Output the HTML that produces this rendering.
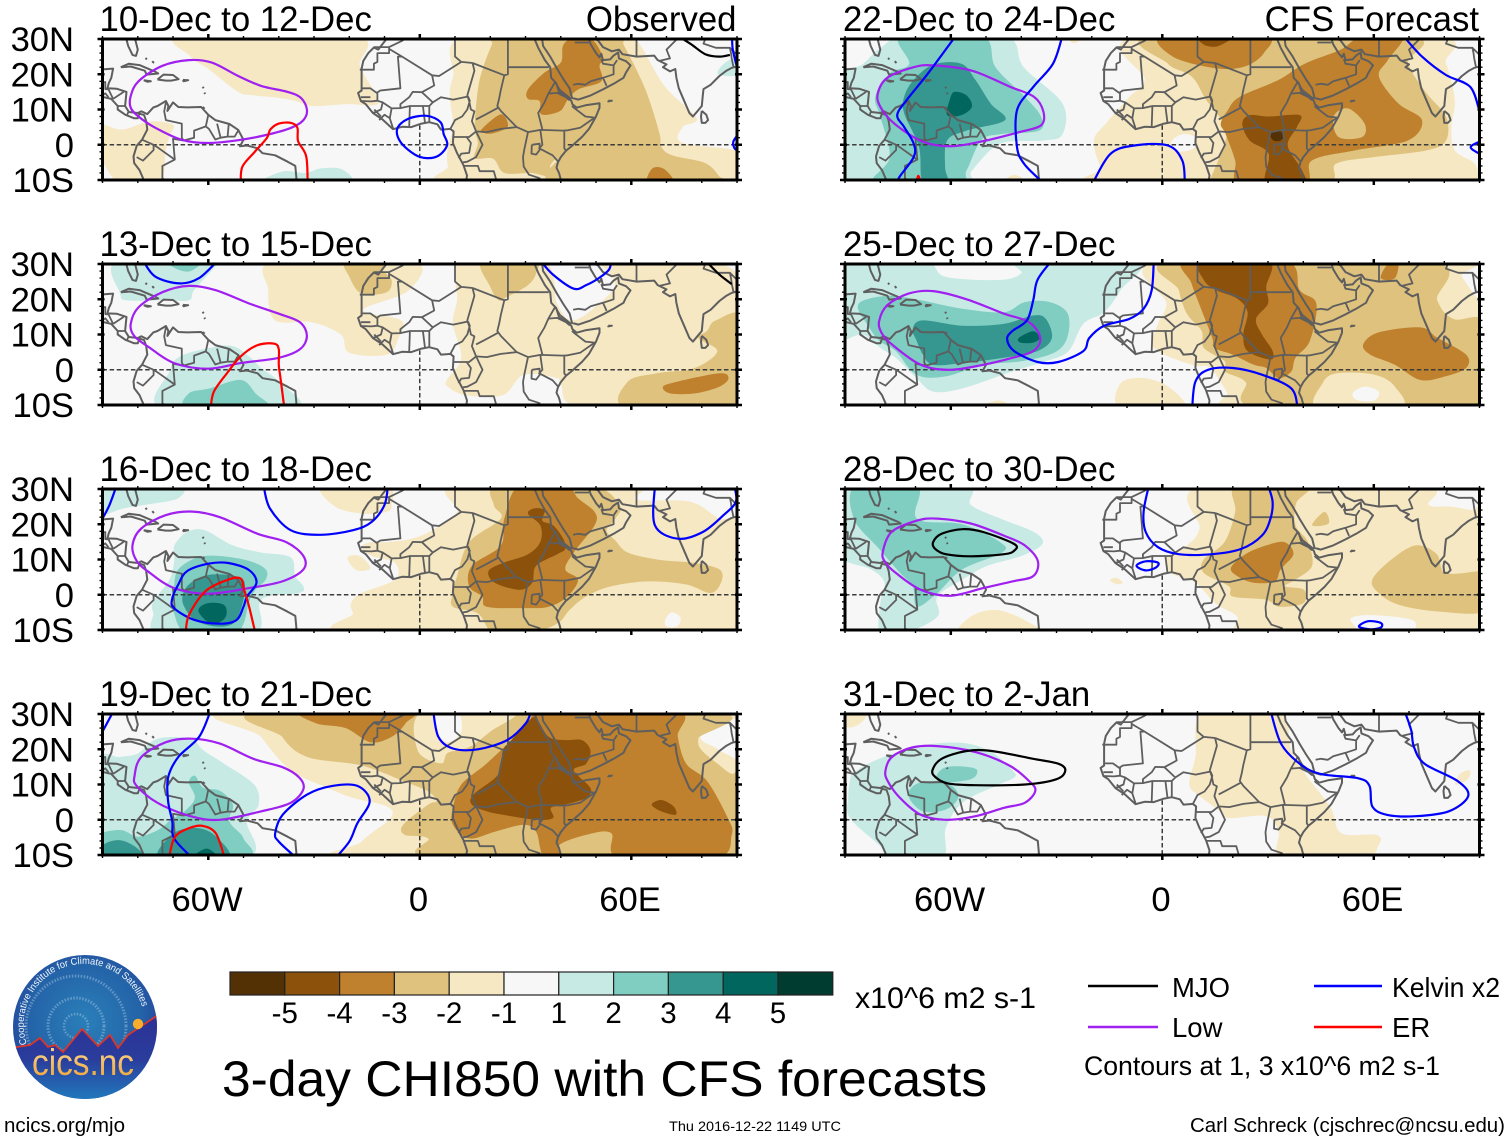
<!DOCTYPE html>
<html lang="en">
<head>
<meta charset="utf-8">
<title>3-day CHI850 with CFS forecasts</title>
<style>
html,body{margin:0;padding:0;background:#fff;width:1510px;height:1142px;overflow:hidden}
svg{display:block}
text{font-family:"Liberation Sans",sans-serif;fill:#000}
</style>
</head>
<body>
<svg id="figure" xmlns="http://www.w3.org/2000/svg" width="1510" height="1142" viewBox="0 0 1510 1142">
  <defs>
    <clipPath id="logo-clip"><circle cx="85" cy="1027" r="72"/></clipPath>
    <radialGradient id="logo-sky" cx="0.5" cy="0.45" r="0.6">
      <stop offset="0" stop-color="#2a7fb9"/><stop offset="0.65" stop-color="#2463a8"/><stop offset="1" stop-color="#243d98"/>
    </radialGradient>
    <linearGradient id="logo-ground" x1="0" y1="0" x2="0" y2="1">
      <stop offset="0" stop-color="#2c2f94"/><stop offset="0.55" stop-color="#2a3d9c"/><stop offset="1" stop-color="#2179bd"/>
    </linearGradient>
    <linearGradient id="logo-word" x1="0" y1="0" x2="0" y2="1">
      <stop offset="0" stop-color="#fbdc9c"/><stop offset="1" stop-color="#f0a030"/>
    </linearGradient>
    <path id="logo-arc" d="M 27 1044 A 60.5 60.5 0 1 1 144 1015"/>
  </defs>

  <g id="panels"></g>

  <g id="colorbar"></g>
  <text x="855" y="1008" font-size="29.7" textLength="181" lengthAdjust="spacingAndGlyphs">x10^6 m2 s-1</text>

  <g>
    <line x1="1088" y1="986" x2="1158" y2="986" stroke="#000" stroke-width="2.4"/>
    <text x="1172" y="997" font-size="27.5" textLength="58" lengthAdjust="spacingAndGlyphs">MJO</text>
    <line x1="1314" y1="986" x2="1382" y2="986" stroke="#0000ff" stroke-width="2.4"/>
    <text x="1392" y="997" font-size="27.5" textLength="108" lengthAdjust="spacingAndGlyphs">Kelvin x2</text>
    <line x1="1088" y1="1027" x2="1158" y2="1027" stroke="#a020f0" stroke-width="2.4"/>
    <text x="1172" y="1037" font-size="27.5">Low</text>
    <line x1="1314" y1="1027" x2="1382" y2="1027" stroke="#ff0000" stroke-width="2.4"/>
    <text x="1392" y="1037" font-size="27.5">ER</text>
    <text x="1084" y="1075" font-size="26.5" textLength="356" lengthAdjust="spacingAndGlyphs">Contours at 1, 3 x10^6 m2 s-1</text>
  </g>

  <text x="222" y="1096" font-size="50" textLength="765" lengthAdjust="spacingAndGlyphs">3-day CHI850 with CFS forecasts</text>
  <text x="4" y="1132" font-size="20.5" textLength="121" lengthAdjust="spacingAndGlyphs">ncics.org/mjo</text>
  <text x="669" y="1131" font-size="13.6" textLength="172" lengthAdjust="spacingAndGlyphs">Thu 2016-12-22 1149 UTC</text>
  <text x="1190" y="1132" font-size="20.5" textLength="315" lengthAdjust="spacingAndGlyphs">Carl Schreck (cjschrec@ncsu.edu)</text>

  <g>
    <circle cx="85" cy="1027" r="72" fill="url(#logo-sky)"/>
    <g clip-path="url(#logo-clip)" fill="none" stroke="#bcd6ee" stroke-opacity="0.4" stroke-dasharray="1.5 1.5">
      <circle cx="76" cy="1026" r="50" stroke-width="3"/>
      <circle cx="76" cy="1026" r="28" stroke-width="3"/>
      <circle cx="76" cy="1026" r="12" stroke-width="2.5"/>
    </g>
    <g clip-path="url(#logo-clip)">
      <path d="M10 1049 L17 1047 L30 1045 L40 1038 L48 1047 L55 1045 L63 1052 L82 1029 L98 1046 L110 1035 L118 1048 L128 1035 L155 1017 L165 1010 L165 1100 L10 1100 Z" fill="url(#logo-ground)"/>
      <path d="M10 1049 L17 1047 L30 1045 L40 1038 L48 1047 L55 1045 L63 1052 L82 1029 L98 1046 L110 1035 L118 1048 L128 1035 L155 1017 L165 1010" fill="none" stroke="#d8362c" stroke-width="1.8"/>
    </g>
    <circle cx="138" cy="1024" r="5.2" fill="#f8ad2e"/>
    <text font-size="9.8" style="fill:#f2f6fb"><textPath href="#logo-arc" textLength="192" lengthAdjust="spacingAndGlyphs">Cooperative Institute for Climate and Satellites</textPath></text>
    <text x="32" y="1075" font-size="37" textLength="102" lengthAdjust="spacingAndGlyphs" style="fill:url(#logo-word)">cics.nc</text>
  </g>
</svg>

<script>
/* ---------- axis ticks ---------- */
const xMajorTicks = [-60, 0, 60];
const xTickLabels = ['60W', '0', '60E'];
const yMajorTicks = [30, 20, 10, 0, -10];
const yTickLabels = ['30N', '20N', '10N', '0', '10S'];

/* ---------- colour scale ---------- */
const barLevels = [-6, -5, -4, -3, -2, 0, 2, 3, 4, 5, 6];
const barLabels = ['-5', '-4', '-3', '-2', '-1', '1', '2', '3', '4', '5'];

/* ---------- panel headings ---------- */
const panelTitles = ['10-Dec to 12-Dec', '13-Dec to 15-Dec', '16-Dec to 18-Dec', '19-Dec to 21-Dec', '22-Dec to 24-Dec', '25-Dec to 27-Dec', '28-Dec to 30-Dec', '31-Dec to 2-Jan'];
const panelTags = ['Observed', '', '', '', 'CFS Forecast', '', '', ''];

/* ---------- map: coastlines and borders as [lon, lat, lon, lat ...] ---------- */
const coastlines = [
  [-83.5,31,-82.7,28,-81.5,25.5,-80.5,25.2,-80,27,-81,31],
  [-91,21.2,-89.5,21.4,-87,21.6,-87.5,19,-88.2,17.5,-88.6,16,-86,15.9,-83.2,15,-83.6,11,-82.5,9.3,-80,9,-79,9.5,-77.3,8.7,-75.6,10.6,-74.4,11,-72,12.4,-71.3,11,-71.6,9.6,-71,10.5,-70,12,-68.5,10.7,-66,10.6,-62,10.7,-60,8.5,-58,7,-54,5.9,-51.5,4.2,-50,1.4,-51,-0.4,-49,-0.2,-46,-1,-44.6,-2.4,-41,-3,-37.5,-4.8,-35.3,-6,-35,-9.5,-36,-11],
  [-91,13.8,-87.5,13,-85.7,11,-85.7,10,-83.5,8.5,-81,7.5,-80,7.5,-79.5,8.8,-78.2,8.4,-77.6,6.7,-77.3,4.3,-78.8,1.4,-80.3,-0.3,-81.2,-3.3,-81,-5.2,-79.5,-7.2,-78.5,-9.5,-78,-11],
  [-84.8,22,-82.5,23,-79.5,22.6,-75,20.7,-74.2,20.2,-77.5,19.9,-78,21,-82,22.2,-84.8,22],
  [-74.4,18.5,-72.7,19.9,-70,19.8,-68.4,18.6,-70.5,18.2,-72,18.2,-74.4,18.5],
  [-78.3,18.3,-76.3,18,-77.3,17.9,-78.3,18.3],
  [-67.2,18.4,-65.7,18.3,-67,18,-67.2,18.4],
  [-61.6,16.4,-61.3,16],[-61.1,14.8,-60.9,14.4],[-77.8,24.6,-77.4,24.2],[-75.9,23.7,-75.4,23.2],[-61.6,10.7,-61,10.2],
  [-9.5,31,-9.6,29.8,-11.8,27,-13,27.6,-14.6,26,-16,23.8,-16.5,21.6,-16.5,15.4,-17.5,14.7,-16.7,12.4,-15.3,11.5,-13.3,9,-10.6,7.2,-7.6,4.4,-5,5.1,-2.4,5,0.5,6,2.7,6.4,5,5.8,6,4.3,7.5,4.4,8.7,4.5,9.6,3.8,9.4,0.5,10.6,-2.4,12.4,-5.8,13.4,-8.7,13.1,-11],
  [32.5,31,32.6,29.9,33.6,27.5,35.5,24,37,22,37.3,19,38.7,17.5,39.5,15,41,14,43,12.5,43.3,11.5,44.5,10.5,47,11.2,51,11.8,51,10.5,50,8,48,4.5,46,2.2,43,-0.5,41.5,-1.7,40,-3.5,39.2,-5,38.8,-6.5,39.5,-8,40.3,-11],
  [34.2,31,34.8,29.5,35,28,37,25,39,21.5,40.8,18.5,42.5,16,43.2,13.3,45,12.8,48.5,14,52,15.7,55,17.3,57.8,19,58.5,20.5,59.8,22.5,58.5,23.7,56.5,24.5,56.3,26.2,55,25.3,54,24.2,52,24,51.5,25.8,51,24.8,50,26,48.5,28.5,48,30,48.5,30.2,50.5,29.7,52,27.7,54.5,26.5,56.5,27,57.5,25.7,61.5,25,66.5,25.3,67.5,24,70,22.8,69,22,71,20.8,72.5,21.5,72.8,19,73.5,16,75,12.5,76.5,9,77.5,8,78.5,9.2,80,11,80.3,14,80.5,15.8,82.5,17,85,19.5,87,21,88.5,21.8,91,22.5],
  [80,9.6,81.3,8.5,81.8,7,81,6.2,80,6.2,79.8,8,80,9.6],
  [53.5,12.5,54.5,12.5,53.5,12.3,53.5,12.5]
];
const borders = [
  [-91,17.5,-89.2,17.8,-89.2,15.8,-88.3,15.7],[-90,14,-89.2,14.6,-88.3,13.5],[-88.3,15.7,-87,13],[-87,13,-84,15],[-83.7,11,-85.7,11],[-83,8.5,-82.6,9.5],
  [-72,12,-72.5,9.5,-72,7,-67.5,6,-67.5,2,-67,1.2,-70,1.7,-69.5,-4.2,-74,-1,-75.5,0,-78.7,1.4],
  [-75.5,0,-75.5,-1.5,-78.5,-4.5,-80.3,-3.5],[-67,1.2,-64,2,-64,4,-60.7,5.2,-60,8.5],[-60.7,5.2,-59.8,4.5,-58,1.5,-56.5,2,-57.5,6],[-56.5,2,-54.5,2.3,-54.2,5.8],[-54.5,2.3,-52.5,2.3,-51.5,4],[-69.5,-4.2,-73,-6,-73,-9.5,-71,-11],
  [-17,21.3,-13,21.3,-13,23,-12,23.5,-12,26,-8.7,26,-8.7,27.7,-13,27.7],[-8.7,27.7,-5,29.5,-3,31],
  [-8.7,27.2,-5,25,-6.2,25,-5.5,16,-11.2,15.4,-12.2,14.7,-14,16,-16.5,16],
  [-5,25,3.5,19.7,4.1,16.8,0.6,14.9,-2,15,-3,13.5,-5.5,11.5,-5.5,10.4,-2.8,11],[3.5,19.7,5.5,19.5,11.8,23.5,15,23.2],[11.8,23.5,10,25,10,31],[15,23.2,24,19.7],[25,31,25,20,24,19.7],[25,22,36.6,22],
  [15,23.2,15.5,21,13.5,14,14,12.5,14.5,10,15.5,9.5,14.8,6.7,16,3.8],[24,19.7,23,15.5,22.5,13,22,11,23,9.6,27.5,5,30.7,3.6],[16,7.2,18.5,8.5,22.4,10.6],
  [16,3.8,19,3.6,23,4.5,27.5,5,30.7,3.6,34.2,4.2,40.7,4],[38.4,17.8,36.5,14.5,35.4,12,33.6,9,34.8,4.3],[38.4,17.8,39.8,15.5,43,13],[36.5,14.5,39,14.7,41.5,13.5,42.5,12.6],
  [43.2,11,43.7,10.5,47,8,49.6,7.7,45.5,4.8,42,4.1,40.7,4],[41,4,41,-1,41.5,-1.7],[34.2,4.2,34.8,0,33.9,-1,37.7,-3,39.2,-4.7],[30.7,3.6,29.7,-1.2,29.3,-3.5,29.5,-6.2,31,-8.5,34,-9.5,33.9,-11],
  [31.8,0,34,0.3,34,-1.5,33,-2.8,31.7,-2.5,31.8,0],
  [9.4,2.2,11.3,2.2,14,2.2,16,3.8],[11.3,2.2,13.3,2.2,14.5,0.5,14,-2.3,11.8,-2.5,11,-3.8],[16,3.8,17.8,0,16,-3.5,13.5,-4.8,12.2,-5],[12.4,-6,16.5,-6,17,-7.5,21,-7.5,22,-11],
  [8.7,4.5,10,7,12,8,13.5,10,14.2,12.5,13.7,13.7],[2.7,6.4,2.7,11,3.7,12,6,13.5,9.5,12.8,13.7,13.7],[2.7,11,0.9,11,1.5,6.2],[-3,5.2,-2.8,11,0.9,11],[0.6,14.9,3.7,12],
  [-7.5,4.4,-8.5,7.5,-8,10.3,-5.5,10.4],[-11.5,7,-10,8.5,-8.5,7.5],[-13.3,9,-11,10,-10.5,12,-12,12.5,-13.7,12.3,-16.7,12.4],[-10.5,12,-8,10.3],[-12,14.7,-12,12.5],[-16.7,13.5,-14,13.5],[-12.9,10,-11,8],
  [37,31,39,31],[44,29,46.5,29,48,29],[43.5,17,45,17.3,47,17,48.5,18,52,19,55,20,55,22.5,52,23,51.5,24.3],[52,19,53,16.7],[55,22.5,56,24],[61.5,25,61.5,29.5,60.8,31],[68,23.8,71,24.5,70,27,73,30,74,31],[79,31,81,30,80.5,28.7,84,27.5,88,27.5,88.3,26,88.5,24.5,89,22],[88,27.5,90,25.5,92,25]
];

/* ---------- fields: [level, [lon, lat ...]] painted in order ---------- */
const fills10Dec = [
  [-1,[-67,31,-65,25,-60,21.5,-51.5,15,-47,14,-41,13.4,-35.5,12.5,-30.5,11,-21,11.5,-12,11.5,-13.5,16,-17,22.5,-18.5,31]],
  [-1,[-92,5.7,-84.5,4.3,-76.7,6.6,-70,5.7,-71,2.4,-72,-1.4,-74,-11,-85,-11,-90,-5,-92,-4]],
  [-1,[13,31,9.5,19.5,8.5,14,9.5,5,8,-0.5,8,-6,11,-11,92,-11,92,-2.4,74.6,0.5,74.6,5,78.5,7.6,69.5,16.6,62,29,57.4,31]],
  [-2,[18,22,20.5,28.5,22,31,55.5,31,58,28,64,15.7,68,3.3,68.5,-0.5,71.6,-3,81,-5.2,85,-9,86,-11,39,-11,39,-4.3,37,-6,37,-9,31.7,-8,24,-8,20.8,-4,15.6,-3.8,16.5,0.5,15.6,5,16.5,15.7]],
  [-3,[40.6,28,43,30,48.7,30,52,24.7,51,22.4,51.5,18,45,15.7,42,12.8,39.7,9.5,34.5,8.6,34,12.4,30.7,13,30.7,15.7,35.4,20.5,40,23.3]],
  [-3,[17.5,4.3,23,8.6,25,5.2,21,3.3,18.4,3.3]],
  [-3,[64.7,-11,66,-6.7,69.5,-7,72,-11]],
  [2,[-44,-11,-39,-7.6,-32.5,-8,-28,-6.7,-22,-7,-20.5,-11]],
  [2,[84.6,20,87.4,23.8,92,24.3,92,20]]
];
const fills13Dec = [
  [2,[-85.6,31,-85,21.6,-83,19.7,-73,19.7,-65.5,19.7,-64,22.6,-58,29.3,-57,31]],
  [3,[-71.5,31,-69,28.6,-65,28,-62,31]],
  [2,[-73,-11,-71,-0.5,-68,3.8,-59,6.3,-53,6.7,-48.4,3.8,-45,0.5,-40,-3.4,-35.4,-11]],
  [3,[-65.5,-11,-65.5,-6.7,-59.6,-5.3,-50.8,-2.9,-46.6,-6.7,-43.7,-11]],
  [-1,[-41,31,-43,22.6,-41,14,-30.7,13.5,-22.4,10,-20,4.8,-9.4,4.3,-6,9,-5.3,14,-16,17,-3,22.6,-2.4,31]],
  [-1,[12,31,10.6,19.7,9.4,13,11.8,3.4,7.7,-2.9,8,-4.8,13,-7.2,23.6,-7.2,29.5,-1.4,39,-2.4,40,-4.3,47,-11,92,-11,92,23,80,31,53,31,54,27.4,55.3,24,52,19.7,43.7,14,39,18.7,35,31]],
  [-2,[-21,31,-20,26.4,-16.5,21.6,-9.4,22,-8,25.5,-10.6,28.4,-10,31]],
  [-2,[17.7,31,20,23.5,22.4,19.7,24.8,20.7,30.7,24,33,27.4,32.5,31]],
  [-2,[59,-11,59,-3.4,67.3,-1,78,0.5,84.4,5.3,79,9,81.5,11,84,14,92,14.4,92,-11]],
  [-3,[69,-4.8,73,-3.4,85,-1,87.6,-2.4,85,-4.8,78,-6.7,71,-6.7]]
];
const fills16Dec = [
  [2,[-92,31,-69,31,-68.5,27.4,-78,25.5,-84,24.5,-92,22.6]],
  [-1,[-27.7,31,-24,25,-16,23,-9.4,23.5,-8,25.5,-9.4,31]],
  [-1,[-20.5,10.5,-17,11,-14,7.5,-18,7]],
  [-1,[10.6,31,10.6,23.5,3.5,18.3,-2.4,15.9,-9.4,14.9,-14,14.9,-16.5,13.5,-13.6,11,-7,9,-7,4.3,-16.5,0.5,-19.5,-2.4,-18.9,-5.3,-16.5,-11,92,-11,92,19.7,85,21.6,76.7,26.4,61.4,27,60,31]],
  [0,[69.7,-7,71.5,-5,74,-6.5,73,-9,70,-9]],
  [-2,[22.4,31,21,25.5,23,21.6,14,14.9,10.6,5.3,9.4,0.5,9.4,-3.4,16.5,-5.3,21,-11,30.7,-11,39,-8.2,42.5,-4.3,47.2,-0.5,54.3,2.4,65,3.8,75.6,2.9,82.6,0.5,85.6,3.8,85,7.2,78,9,67.3,10,59,12,55.5,15.4,53,18.3,55.5,21.6,56.7,25.5,48.4,31]],
  [-3,[28.3,31,24,21.6,23,14,14.8,8.2,14,2.4,17.7,-0.5,19,-3.4,29.5,-3.8,36.6,-3.4,41.9,-0.5,44.9,4.3,41.3,7.2,43.7,12,49.6,19.7,49.6,23.5,44.9,27.4,41.3,31]],
  [-4,[30.7,23,32.5,24.5,35.4,24,34.8,21,37.8,19.7,40.7,15.9,41.3,13,39,11.5,33,8.2,31.9,3.4,28.3,1.4,21.3,3.4,19.5,6.7,23.6,9,30.7,11.5,34.2,15,34.2,19.7]],
  [2,[-69.6,14,-66,17.8,-61,18.3,-53,14,-45,12,-36.6,10.6,-35.4,5.3,-33,2.4,-34.2,0.5,-45,-1.4,-47,-11,-73.8,-11,-75.6,-5.3,-75.6,-2,-71,4.3,-69.6,10]],
  [3,[-69.7,2.4,-68.5,7.2,-63,10.6,-56.7,11,-48.4,9.6,-43.7,7.2,-43.7,4.3,-46.6,1.4,-48.4,-2,-50,-8.2,-53,-11,-66,-11,-69.7,-5.3,-69.7,-1.4]],
  [4,[-67.3,-0.5,-66,2.4,-62.6,4.8,-57.9,5.8,-50.8,4.8,-49.6,1.4,-50.8,-4.3,-53,-8.2,-57.9,-9,-63.8,-7.2,-66.8,-3.4]],
  [5,[-62.8,-4.3,-60.2,-2.4,-55.5,-2.9,-55,-6.2,-57.9,-8.2,-60.8,-7.2]]
];
const fills19Dec = [
  [2,[-92,16.3,-85,17.8,-80,18.8,-74.4,23,-65,23,-61.4,19.7,-55.5,15.9,-47,10,-45.7,4.3,-49,-0.5,-49.6,-11,-92,-11]],
  [3,[-92,-11,-92,-4.8,-85,-2.9,-80,-4.8,-74.4,-3,-70.5,0,-66.7,2.4,-63.8,6.2,-65.5,10.6,-63.8,12.5,-61.4,9.1,-56.7,8.2,-53,4.3,-54,-0.5,-50,-5.3,-50.8,-11]],
  [4,[-92,-11,-90,-7.2,-85,-5.8,-80,-8.2,-79,-11]],
  [4,[-73.8,-11,-69.7,-3.8,-62.6,-2.4,-57.2,-5.3,-54.8,-11]],
  [5,[-64.4,-11,-60.8,-8.2,-57.9,-9.6,-56,-11]],
  [-1,[-49.6,31,-45,23.5,-36.6,14,-26,9,-19,6.2,-9.4,3.8,-8.3,0.5,-16.5,-6.2,-17.7,-11,92,-11,92,13,85,19.7,80,22.6,80,26.4,85,31]],
  [-2,[-41.3,31,-39,23.5,-31.9,17.8,-16.5,15.4,-4.7,11,2.4,8,4.7,5.3,2.4,4.3,-4.7,-1.4,-4.2,-4.3,2.4,-5.3,5.9,-11,92,-11,92,13,88.5,13,85,15.5,80,19.7,79,23,80,31]],
  [-1,[1.2,31,-0.6,19.7,6,16,8,19,14,20.6,20,25,27,31]],
  [0,[4,31,4.7,25,8,22,11.8,25,10.6,31]],
  [-3,[-33,31,-29.5,27.4,-21,26,-14,22,-8,23.5,-4,27.4,-3,31]],
  [-3,[26,22.6,18.9,15.9,11.8,10,9.4,3.4,9.4,-1.4,14,-5.3,21.3,-3.4,29.5,-1.4,33,-3.4,34.2,-8.2,35.4,-11,40.1,-11,39.6,-7.2,47.2,-4.3,54.3,-3.8,56.7,-11,84,-11,88.5,-4.3,87.4,0.5,81.5,11,75.6,15.9,73.2,23.5,72.6,31,36.6,31,31,28]],
  [-4,[30.7,27.9,33,28.8,36.6,23.5,41.3,22.6,46,22.6,48.4,19.7,47.2,15.9,43.7,14,48.4,9,47.2,6.2,41.3,4.3,37.2,3.4,37.8,0.5,33,0,23.6,1.4,19,2.4,14.8,4.3,15.3,7.2,22.4,13,23.6,19.7,26,22.6]],
  [-4,[65.8,4.3,68.5,5.6,72,3.8,72.6,1.4,68.5,2.4]]
];
const fills22Dec = [
  [2,[-92,-11,-92,17,-84.8,23,-80,27.4,-72,31,-44.8,31,-39.3,22,-28.3,11.7,-28.3,3,-33.7,1.2,-46,0.3,-54,-7.3,-57,-11]],
  [3,[-74,31,-51.4,31,-47.3,22,-39,13.6,-34.4,8,-35,4,-46,3,-51.4,1.2,-55.5,-7.3,-58,-11,-81.4,-11,-77.3,-3.5,-80,8,-81.4,13.6,-77.3,20.3,-71.8,23]],
  [4,[-73.2,13.6,-70.5,18.4,-65,22.7,-57,23,-53,18.4,-48.7,11.7,-44.6,7,-55.5,4,-61,1.2,-61.6,-6.4,-61,-11,-67.8,-11,-69,-0.7,-73.2,8.9]],
  [5,[-59,15,-55.5,14,-54,10.8,-57,8.4,-61,8.4,-60.3,12.7]],
  [-1,[-45,-11,-42,-8.5,-38,-11]],
  [-1,[-27,31,-25,28.8,-22,31]],
  [-1,[-6.5,31,-5,18.4,-9.3,13.6,-16,6,-19.4,1.2,-17.4,-6.4,-13.3,-11,92,-11,90,-10,88.7,-5.4,83,-1.6,82,5,83,12.7,80.5,23,75.8,31]],
  [0,[3,1.5,6,3,9.5,2,9,-1,5,-2,2.5,-1]],
  [-2,[-2.4,31,1.6,23,8.4,19.3,12.5,12.7,18,5,17.3,-0.7,13.9,-9.2,13.5,-11,45.9,-11,49.3,-5.4,60,-3.5,75,-1.6,80.5,1.2,80.5,8,75,14.6,69.7,23,69,31]],
  [-3,[0.3,31,3,25,15.2,21.7,23.4,22.2,28.8,26,28.8,31]],
  [-3,[18.6,9.8,22,13.6,33,18.4,40.4,23,50.6,27,57,31,68.3,31,64,24,61.5,19.3,67,11.7,73.7,7,69.7,1.2,54.7,-1.6,42.4,-4.5,40.4,-11,22,-11,20.7,-4.5,18,3,16.6,6]],
  [-2,[48.6,8,52.7,10.3,57.4,6,56.7,2.2,50,2.2]],
  [-4,[22.7,6,24.8,8.4,30.2,8,39,8.4,38.2,5,35.6,-0.3,39.7,-7.3,40,-11,29.5,-11,30.2,-2.6,24.8,1.2]],
  [-4,[10.5,31,11.8,28.4,15.9,28,20,31]],
  [-6,[30.6,3,33,4,34.6,2.7,33.6,1.2,31.6,1.2]]
];
const fills25Dec = [
  [2,[-92,31,-68,31,-61.5,26.4,-46,25.5,-40,27.4,-40,31,-7,31,-11.8,22.6,-16.5,16.3,-22.4,13,-26.6,5.3,-33,2.4,-42.5,-0.5,-56.7,-5.3,-65,-6.2,-69.7,-2.4,-75.6,3.4,-80,6.2,-85,10,-92,10]],
  [3,[-86.4,17.8,-83.8,20,-76.7,21,-68.5,19.7,-56.7,17.3,-45,16.3,-39,19.2,-31.9,19.2,-26.8,15.9,-27,9,-30.7,4.8,-40,2.4,-50.8,1.4,-61.4,-1.9,-69.7,-1.4,-75.6,5.3,-80.3,8.2,-83.8,13]],
  [4,[-70.8,11.5,-68,14,-56.7,12.5,-45,13,-36.6,15.4,-33,14.4,-31.3,9,-35.4,5.3,-45,3.4,-56.7,1.9,-65,1.4,-67.9,4.3,-69.7,8.2]],
  [5,[-40.7,9,-36.6,10.9,-34.8,9,-36.6,7.7,-40.2,7.7]],
  [-1,[-52,-11,-46.5,-8.7,-42.5,-11]],
  [-1,[-11.8,-11,-11.8,-3.8,-4.7,-2.4,2.4,-5.3,5.9,-11]],
  [-1,[0,31,1.2,18.8,-1.2,13,-2.4,6.2,8.3,1.4,13.6,0.5,18.3,-6.2,22.4,-11,92,-11,92,19.7,90,19.7,85,26.4,82.6,31]],
  [-2,[3.5,31,4.7,22.6,7,15.9,11.2,11,11.8,6.2,17.7,2.4,17.7,-0.5,23.6,-3.4,28.3,-11,92,-11,92,13,82.6,14.4,78,19.7,75.6,31]],
  [-1,[44.3,-11,45.5,-3.8,49.6,-1,60.2,-1.4,66,-4.8,67.3,-11]],
  [0,[54,-6.7,57.3,-4.8,61.4,-6.2,60.2,-8.7,55.5,-8.7]],
  [-3,[7,31,8.3,24.5,11.2,16.8,14.2,9,14.8,6.2,20,4.3,26,1.4,29.5,0.5,33,-2.4,36.6,-0.5,37.8,3.4,41.9,8.2,43.7,18.8,39,22.6,34.8,31]],
  [-3,[57,7.2,61.4,10.6,73.2,12,78,9.1,86.2,4.3,86.2,0.5,80.3,-1.9,73.2,-2.9,66,1.4,59,4.3]],
  [-3,[62,26,64,30,67,31,66,26]],
  [-4,[11.2,31,11.8,25.5,15.3,22.6,21.2,20.2,24.2,16.3,23,10,24.2,5.3,30.7,2.9,31.3,5.3,28.3,10,26.6,14.4,30,18.8,29.5,23.5,30,31]]
];
const fills28Dec = [
  [2,[-92,31,-56.7,31,-54.3,25.5,-45.9,21.6,-36.4,17.8,-34,14.4,-40,11,-49.6,8.2,-56.7,4.3,-63.8,-0.5,-63.8,-6.2,-73.2,-11,-80,-11,-80,-2.4,-78.8,3.4,-82.6,7.2,-92,12]],
  [3,[-86.8,31,-69.6,31,-69.6,21.6,-56.7,20,-46,14.9,-45.4,12,-56.7,7.2,-63.8,0.5,-69.6,-3.4,-70.8,2.4,-74.4,6.2,-80.3,13,-87.5,21.6]],
  [-1,[11.8,31,10.6,18.8,7,14,1.2,10.6,2.4,6.2,9.4,3.4,14,-1.4,16.5,-3.4,21.3,-6.2,23,-11,52.9,-11,53.5,-6.7,60.2,-5.8,71,-7.2,73.8,-11,92,-11,92,24,88,24,82,25,75.6,25.5,72.8,31]],
  [-1,[-14.8,4.1,-13,4.8,-11.2,3.4,-13,3]],
  [-1,[-56.7,-11,-54.3,-6.2,-47.2,-4.3,-39,-7.2,-35.4,-11]],
  [-2,[21.3,31,20.7,23.5,17.7,15,11.8,10,11.8,6.2,18.9,2.4,20,-0.5,29.5,-1.4,33,-3.4,40,-2.4,40.2,1.4,34.8,2.4,37.8,4.3,42.5,8.2,41.3,15,37.8,19.7,38,26,41.3,31]],
  [-2,[42.5,19.7,46,23.5,47.2,20.2]],
  [-2,[59.6,4.3,65,10,72,14,77.9,11.5,80.3,6.2,89.7,6.7,92,7,92,-4.3,79,-4.8,67.3,-2.9,61.4,0.5]],
  [-3,[19.5,7.7,23.6,11.5,29.5,14,34.8,14.9,37.2,11.5,33.6,7.2,31.9,3.8,26,3.4,21.3,5.3]]
];
const fills31Dec = [
  [2,[-87.4,13.5,-80.3,17.3,-68.5,21,-56.7,21.8,-48.4,19.2,-42.5,14,-42,12,-47.2,9.6,-56.7,4.8,-61.4,-2.4,-62.6,-11,-76.7,-11,-80.3,-7.2,-88.6,0.5,-89.1,6.2,-88.6,11]],
  [3,[-64,12.5,-61.4,14.9,-55.5,15,-52.5,14,-54.3,11.5,-62.6,10.6]],
  [3,[-72,6.7,-70,10,-64.7,10.9,-59.6,9.6,-57.9,6.2,-61.4,2.9,-67.9,2.4]],
  [-1,[-92,31,-89.7,26.4,-85.6,27.4,-83.8,31]],
  [-1,[11.8,31,9.4,17.8,7.7,10,10.6,6.7,16.5,2.4,18.9,0.5,29.5,1,33,-3.4,34.2,-11,56.7,-11,61.4,-7.2,60.8,-4.3,50.8,-3.8,47.8,3.4,41.3,12,36.6,19.7,33,31]],
  [-1,[83.2,10,84.4,13,87.3,14,86.7,11.5]]
];

/* ---------- contours: [kind, closed, [lon, lat ...]] ---------- */
const lines10Dec = [
  ['low',1,[-82,13.8,-79.8,18,-73,22.4,-65.5,24,-59,23.3,-51.5,19.5,-45,16.7,-37.5,15,-33.7,13.3,-32,10,-33,7,-36.5,4.8,-43,2.9,-50.8,1.4,-60,0.5,-67.5,1.4,-75,4.8,-79.8,8,-82,10.5]],
  ['er',0,[-50.8,-11,-50.3,-6.2,-46.7,-1.9,-43.4,1.9,-42.4,4.3,-40,6,-36.5,6.2,-34.7,4.8,-34.5,1,-32.2,-3.3,-31.8,-11]],
  ['kelvin',1,[-6.4,4.5,-3.4,7.3,2,8.2,5.9,6.4,6.8,3,7.8,0,5.5,-3,2,-3.8,-1.4,-2.8,-5.4,0.7]],
  ['kelvin',0,[90.8,3.5,89,1,89.3,-1,90.8,-2]],
  ['kelvin',0,[88.6,31,88.8,27,90,22]],
  ['mjo',0,[73,31,77,28.5,81,25.7,85,25,88,25.5]]
];
const lines13Dec = [
  ['low',1,[-82,13,-79.7,17.8,-73,22,-65.5,23.8,-58,22.6,-48.4,18.8,-40,15.9,-34,13.5,-32,9.6,-34,5.8,-40,3.4,-50.8,1.9,-60,0.3,-69.7,1.9,-76.7,6.3,-81,9.6]],
  ['kelvin',0,[-78.5,31,-75,26.4,-68,24.5,-62.6,26,-57.3,31]],
  ['kelvin',0,[34.2,31,37.8,27,43.7,23,47.2,24,50.8,26,53.7,28.4,54.3,31]],
  ['mjo',0,[81,31,85,27,88.5,24.3]],
  ['er',0,[-59.3,-11,-58.4,-6.2,-54.3,-0.5,-50.8,3.8,-46,7,-41.3,7.4,-40,5.8,-40,1.4,-39.5,-2.4,-38.4,-11]]
];
const lines16Dec = [
  ['low',1,[-81.5,14,-79,18.8,-72,22.6,-64.4,23.6,-56.7,22,-46,17.3,-37.8,14.9,-33,11,-33,7.2,-39,3.8,-48.4,1.9,-60,0.3,-69.7,1.9,-76.7,6.3,-80.3,9.6]],
  ['kelvin',1,[-68.5,2.9,-66,6.7,-60,8.8,-54.3,9,-48.4,7,-46.3,3.4,-49,-0.5,-50,-3.4,-52,-7.2,-56.7,-8.2,-63.8,-7.2,-69.7,-3.8,-70.2,-1]],
  ['kelvin',0,[-86,31,-88,25.5,-90,21.6]],
  ['kelvin',0,[-44.3,31,-42.5,24.5,-36.6,18.3,-28.3,17,-18.9,18.3,-13.6,20.7,-10,25.5,-9,31]],
  ['kelvin',0,[66.7,31,66.7,19.7,73.2,15.9,80.3,17.8,86.2,22.6,89.7,26.4,89.2,31]],
  ['er',0,[-66.4,-11,-65.5,-5.8,-60.8,1,-54.3,4.3,-50.8,4.6,-49.8,1.4,-48.4,-3.4,-46.6,-11]]
];
const lines19Dec = [
  ['low',1,[-80.9,12.5,-79,17.8,-72,22,-64.7,23,-56.7,21.6,-47.2,17.3,-38.9,14.9,-34.2,12,-33,8.7,-36.6,4.8,-44.9,2.4,-56.7,0,-65,1,-74.4,4.8,-80.3,9.6]],
  ['kelvin',0,[-59.3,31,-62.6,23.5,-68.5,17.8,-71.4,12,-71.4,5.3,-70.2,-0.5,-69.7,-5.3,-64.4,-11]],
  ['kelvin',0,[-90,25,-86.8,31]],
  ['kelvin',0,[-34.8,-11,-40,-6.2,-41,-3.8,-38.9,1.4,-31.9,7.2,-24.8,9.6,-17.7,9.6,-14.2,5.3,-17.7,-1,-20,-6.2,-24,-11]],
  ['kelvin',0,[3.8,31,5.3,23.5,9.4,20.2,16.5,20,24.8,22.6,30.1,27.4,31.6,31]],
  ['er',0,[-71.2,-11,-69.7,-5.3,-66.7,-2.9,-62,-1.7,-57.9,-3.8,-55.3,-11]]
];
const lines22Dec = [
  ['low',1,[-80.7,14.6,-78,19,-70.5,22,-65,22.5,-54,21,-43.3,16.5,-36.4,13.6,-33.7,9.3,-34.4,5.5,-40.5,3.6,-50,1.2,-59.6,-0.4,-67.8,0.8,-76,6,-80,10.8]],
  ['kelvin',0,[-58.5,31,-66.4,20.3,-72.5,12.7,-75.2,8.4,-73.2,5,-70.5,0.3,-70.5,-3.5,-74.6,-9.2,-75,-11]],
  ['kelvin',0,[-28.3,31,-31,23,-36.5,16.5,-41.2,9.8,-41.2,-0.7,-39.2,-5.4,-35,-9.7,-34,-11]],
  ['kelvin',0,[-19.8,-11,-14.7,-2.6,-7.9,-0.2,1.6,-0.2,5.7,-4.5,6.4,-11]],
  ['kelvin',0,[68.3,31,73.7,25,80.5,19.8,87.3,16.5,89.8,10.3]],
  ['kelvin',0,[90.8,1.2,87.5,-0.7,90.8,-3]],
  ['er',0,[-69.8,-11,-69.2,-8.8,-68.5,-11]]
];
const lines25Dec = [
  ['low',1,[-80.3,13.9,-78,18.3,-72,21.6,-65,22.3,-55.5,20,-44.9,15.9,-37.8,13.5,-34.6,9,-36.6,5.3,-42.5,3.4,-50.8,1.4,-60.2,0,-68.5,1.4,-76.7,7.2,-79.7,10.6]],
  ['kelvin',0,[-31.3,31,-35.4,25.5,-36.6,19.7,-38.4,14,-42.5,11,-44,8.7,-42,5.3,-35.4,2.2,-29.5,2.2,-22.4,5.3,-20.7,9,-16.5,12.5,-9.4,14.4,-5.3,17.3,-3,22.6,-2.4,31]],
  ['kelvin',0,[8.5,-11,9.4,-3.4,13,0,20,0.5,28.3,-1.4,36.6,-5.3,38.4,-11]]
];
const lines28Dec = [
  ['low',1,[-79.3,12,-76.8,17.8,-69.7,21,-63.8,21.6,-54.3,20.2,-45,16.8,-39,14,-35.3,9.6,-36.6,5.3,-42.5,3.8,-50.8,1.9,-60.2,-0.3,-68.5,1.4,-75.6,6.2,-78.5,9.1]],
  ['mjo',1,[-65,14.9,-62.6,17.3,-56.7,18.6,-50.8,17.8,-42,14.4,-42,12.5,-44.9,11.5,-54.3,10.9,-61.4,11.5,-64.4,13]],
  ['kelvin',0,[-3.8,31,-5.3,23.5,-4.7,17.8,-1.2,13.5,4.7,11.5,14.2,11.5,22.4,13,28.3,16.8,30.7,21.6,31.3,26.4,30,31]],
  ['kelvin',1,[-7.3,8.2,-4.7,9.5,-1.2,9.1,-1.8,7.7,-4.7,6.9]],
  ['kelvin',1,[55.8,-9,58.4,-7.5,62,-8,62,-9.3,59,-9.8]]
];
const lines31Dec = [
  ['low',1,[-78.5,14,-76.7,17.8,-71,20.5,-63.8,20.9,-53,19.2,-43.4,15.4,-37.8,11,-36,8.2,-39,4.8,-44.9,3.4,-53,1,-61.4,0,-68.5,1.4,-74.4,6.2,-77.9,11]],
  ['mjo',1,[-65.2,14,-62.6,17.3,-55.5,19.5,-48.4,19.5,-36.6,17.3,-29.5,15.9,-27.5,14,-30,11.5,-38.9,10,-53,9.8,-60.8,10.3,-64.2,12]],
  ['kelvin',0,[30.7,31,33.7,21.6,39,15.9,44.9,13,55.5,11.8,58.8,9.6,59.6,3.8,63.7,1.4,71.9,1,81.3,2.4,86.8,6.7,83.8,11,74.4,15.9,71.4,20.7,70.6,25.5,68.7,31]]
];

const panelFills = [fills10Dec, fills13Dec, fills16Dec, fills19Dec, fills22Dec, fills25Dec, fills28Dec, fills31Dec];
const panelLines = [lines10Dec, lines13Dec, lines16Dec, lines19Dec, lines22Dec, lines25Dec, lines28Dec, lines31Dec];

/* ---------- rendering ---------- */
const SVGNS = 'http://www.w3.org/2000/svg';
const DEG = 3.525;
const colX = [102.5, 845];
const rowY = [39, 264, 489, 714];
const barColor = {'-6':'#543005','-5':'#8c510a','-4':'#bf812d','-3':'#dfc27d','-2':'#f6e8c3','0':'#f7f7f7','2':'#c7eae5','3':'#80cdc1','4':'#35978f','5':'#01665e','6':'#003c30'};
const lineColor = {low:'#a020f0', kelvin:'#0000ff', er:'#ff0000', mjo:'#000000'};
const fillColor = {'-6':'#543005','-4':'#8c510a','-3':'#bf812d','-2':'#dfc27d','-1':'#f6e8c3','0':'#f7f7f7','2':'#c7eae5','3':'#80cdc1','4':'#35978f','5':'#01665e','6':'#003c30'};

function make(parent, tag, attrs) {
  const el = document.createElementNS(SVGNS, tag);
  for (const k in attrs) el.setAttribute(k, attrs[k]);
  parent.appendChild(el);
  return el;
}
function xAxis(col, lon) { return colX[col] + (lon + 90) * DEG; }
function yAxis(row, lat) { return rowY[row] + (30 - lat) * DEG; }
function toPixels(col, row, flat) {
  const pts = [];
  for (let i = 0; i < flat.length; i += 2) pts.push([xAxis(col, flat[i]), yAxis(row, flat[i + 1])]);
  return pts;
}
function smoothPath(pts, closed) {
  const n = pts.length;
  const at = function (i) {
    if (closed) return pts[(i + n) % n];
    return pts[Math.max(0, Math.min(n - 1, i))];
  };
  let d = 'M' + pts[0][0].toFixed(1) + ' ' + pts[0][1].toFixed(1);
  const last = closed ? n : n - 1;
  for (let i = 0; i < last; i++) {
    const p0 = at(i - 1), p1 = at(i), p2 = at(i + 1), p3 = at(i + 2);
    const c1x = p1[0] + (p2[0] - p0[0]) / 6, c1y = p1[1] + (p2[1] - p0[1]) / 6;
    const c2x = p2[0] - (p3[0] - p1[0]) / 6, c2y = p2[1] - (p3[1] - p1[1]) / 6;
    d += 'C' + c1x.toFixed(1) + ' ' + c1y.toFixed(1) + ' ' + c2x.toFixed(1) + ' ' + c2y.toFixed(1) + ' ' + p2[0].toFixed(1) + ' ' + p2[1].toFixed(1);
  }
  return closed ? d + 'Z' : d;
}
function polyPath(pts) {
  return 'M' + pts.map(function (p) { return p[0].toFixed(1) + ' ' + p[1].toFixed(1); }).join('L');
}

const svg = document.getElementById('figure');
const panelsRoot = document.getElementById('panels');
const defs = svg.querySelector('defs');
const X0 = -90, X1 = 90, Y0 = 30, Y1 = -10;

panelTitles.forEach(function (title, idx) {
  const col = idx < 4 ? 0 : 1;
  const row = idx % 4;
  const left = xAxis(col, X0), right = xAxis(col, X1), top = yAxis(row, Y0), bottom = yAxis(row, Y1);

  const cp = make(defs, 'clipPath', {id: 'clip-' + idx});
  make(cp, 'rect', {x: left, y: top, width: right - left, height: bottom - top});

  const g = make(panelsRoot, 'g', {});
  
  

  const bg = make(g, 'rect', {x: left, y: top, width: right - left, height: bottom - top, fill: '#f7f7f7'});
  
  

  const clipped = make(g, 'g', {'clip-path': 'url(#clip-' + idx + ')'});

  panelFills[idx].forEach(function (shape) {
    const path = make(clipped, 'path', {d: smoothPath(toPixels(col, row, shape[1]), true), fill: fillColor[String(shape[0])]});
    
    
  });

  const eqA = make(clipped, 'line', {x1: xAxis(col, -90), x2: xAxis(col, 9.5), y1: yAxis(row, 0), y2: yAxis(row, 0), stroke: '#3c3c3c', 'stroke-width': 1.5, 'stroke-dasharray': '4.5 2.6'});
  
  
  const eqB = make(clipped, 'line', {x1: xAxis(col, 42), x2: xAxis(col, 90), y1: yAxis(row, 0), y2: yAxis(row, 0), stroke: '#3c3c3c', 'stroke-width': 1.5, 'stroke-dasharray': '4.5 2.6'});
  
  
  const pm = make(clipped, 'line', {x1: xAxis(col, 0), x2: xAxis(col, 0), y1: yAxis(row, 5.5), y2: yAxis(row, -10), stroke: '#3c3c3c', 'stroke-width': 1.5, 'stroke-dasharray': '4.5 2.6'});
  
  

  const coastD = coastlines.map(function (c) { return polyPath(toPixels(col, row, c)); }).join('');
  const coast = make(clipped, 'path', {d: coastD, fill: 'none', stroke: '#5e5e5e', 'stroke-width': 2, 'stroke-linejoin': 'round'});
  
  
  const borderD = borders.map(function (c) { return polyPath(toPixels(col, row, c)); }).join('');
  const bord = make(clipped, 'path', {d: borderD, fill: 'none', stroke: '#5e5e5e', 'stroke-width': 1.8, 'stroke-linejoin': 'round'});
  
  

  panelLines[idx].forEach(function (ln) {
    const path = make(clipped, 'path', {d: smoothPath(toPixels(col, row, ln[2]), ln[1] === 1), fill: 'none', stroke: lineColor[ln[0]], 'stroke-width': 2.2});
    
    
  });

  /* ticks */
  let tickD = '', minorD = '';
  for (let lon = X0; lon <= X1; lon += 10) {
    const x = xAxis(col, lon).toFixed(1);
    if (xMajorTicks.indexOf(lon) >= 0) tickD += 'M' + x + ' ' + (top - 5) + 'V' + top + 'M' + x + ' ' + bottom + 'V' + (bottom + 5);
    else minorD += 'M' + x + ' ' + (top - 3) + 'V' + top + 'M' + x + ' ' + bottom + 'V' + (bottom + 3);
  }
  for (let lat = Y1; lat <= Y0; lat += 2) {
    const y = yAxis(row, lat).toFixed(1);
    if (yMajorTicks.indexOf(lat) >= 0) tickD += 'M' + (left - 5) + ' ' + y + 'H' + (left + 2) + 'M' + (right - 2) + ' ' + y + 'H' + (right + 5);
    else minorD += 'M' + (left - 3) + ' ' + y + 'H' + left + 'M' + right + ' ' + y + 'H' + (right + 3);
  }
  const majorTicks = make(g, 'path', {d: tickD, stroke: '#000', 'stroke-width': 2.5, fill: 'none'});
  
  
  const minorTicks = make(g, 'path', {d: minorD, stroke: '#000', 'stroke-width': 1.4, fill: 'none'});
  
  

  const frame = make(g, 'rect', {x: left, y: top, width: right - left, height: bottom - top, fill: 'none', stroke: '#000', 'stroke-width': 3});
  
  

  const titleEl = make(g, 'text', {x: left - (col === 0 ? 3 : 2), y: top - 8, 'font-size': 34.75});
  titleEl.textContent = title;
  
  

  if (panelTags[idx]) {
    const tag = make(g, 'text', {x: right - 0.5, y: top - 8, 'font-size': 34.75, 'text-anchor': 'end'});
    tag.textContent = panelTags[idx];
    
    
  }

  if (col === 0) {
    yMajorTicks.forEach(function (lat, i) {
      const lbl = make(g, 'text', {x: 74, y: yAxis(row, lat) + 12, 'font-size': 34.6, 'text-anchor': 'end'});
      lbl.textContent = yTickLabels[i];
      
      
    });
  }
  if (row === 3) {
    xMajorTicks.forEach(function (lon, i) {
      const lbl = make(g, 'text', {x: xAxis(col, lon) - 1.2, y: 911, 'font-size': 34.6, 'text-anchor': 'middle'});
      lbl.textContent = xTickLabels[i];
      
      
    });
  }
});

/* colour bar */
const barRoot = document.getElementById('colorbar');
const BAR_X = 230, BAR_W = 54.8, BAR_Y = 972, BAR_H = 23;
barLevels.forEach(function (lv, i) {
  const box = make(barRoot, 'rect', {x: BAR_X + i * BAR_W, y: BAR_Y, width: BAR_W, height: BAR_H, fill: barColor[String(lv)], stroke: '#222', 'stroke-width': 1.2});
  
  
});
barLabels.forEach(function (txt, i) {
  const lbl = make(barRoot, 'text', {x: BAR_X + (i + 1) * BAR_W, y: 1023, 'font-size': 29.5, 'text-anchor': 'middle'});
  lbl.textContent = txt;
  
  
});
</script>
</body>
</html>
